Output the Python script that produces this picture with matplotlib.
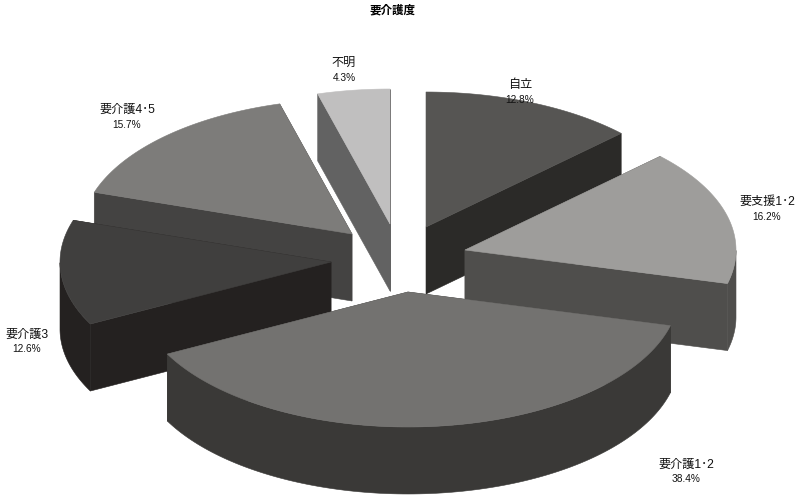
import numpy as np
import matplotlib
matplotlib.use("Agg")
import matplotlib.pyplot as plt

plt.rcParams["font.family"] = ["Liberation Sans", "Noto Sans CJK JP", "DejaVu Sans"]

categories = ["自立", "要支援1･2", "要介護1･2", "要介護3", "要介護4･5", "不明"]
shares = [12.8, 16.2, 38.4, 12.6, 15.7, 4.3]

# look of the slices
top_colors = ["#565553", "#9e9d9b", "#737270", "#403f3e", "#7d7c7a", "#c0bfbf"]
side_colors = ["#2b2a28", "#4f4e4c", "#3a3937", "#242120", "#444342", "#626262"]
apex_x = [426, 465, 408, 331, 352, 390]
apex_y = [227, 250, 292, 262, 234, 224]
label_x = [520, 767, 686, 27, 127, 344]
label_y = [85, 202, 465, 335, 110, 63]
draw_order = [5, 4, 0, 1, 3, 2]

RX, RY, DEPTH = 271, 135, 67

fig = plt.figure(figsize=(8, 5.03), dpi=100)
ax = fig.add_axes([0, 0, 1, 1])
ax.set_xlim(0, 800)
ax.set_ylim(503, 0)
ax.axis("off")

edges = np.cumsum([0] + shares) / sum(shares) * 2 * np.pi

for i in draw_order:
    t = np.linspace(edges[i], edges[i + 1], 120)
    arc_x = apex_x[i] + RX * np.sin(t)
    arc_y = apex_y[i] - RY * np.cos(t)
    # outer wall only where the rim faces the viewer
    front = (t >= np.pi / 2) & (t <= 3 * np.pi / 2)
    if front.any():
        wall_x, wall_y = arc_x[front], arc_y[front]
        ax.fill(np.r_[wall_x, wall_x[::-1]], np.r_[wall_y, wall_y[::-1] + DEPTH],
                color=side_colors[i], lw=0.4)
    # the two cut faces, the top hides whatever is behind it
    for end in (0, -1):
        ax.fill([apex_x[i], arc_x[end], arc_x[end], apex_x[i]],
                [apex_y[i], arc_y[end], arc_y[end] + DEPTH, apex_y[i] + DEPTH],
                color=side_colors[i], lw=0.4)
    ax.fill(np.r_[apex_x[i], arc_x], np.r_[apex_y[i], arc_y], color=top_colors[i], lw=0.4)

for i in range(len(categories)):
    ax.text(label_x[i], label_y[i], categories[i], ha="center", va="center",
            fontsize=8.7, color="#111111")
    ax.text(label_x[i], label_y[i] + 14.5, f"{shares[i]:.1f}%", ha="center", va="center",
            fontsize=7.3, color="#111111")

ax.text(393, 10, "要介護度", ha="center", va="center", fontsize=8.3,
        fontweight="bold", color="black")

fig.savefig("out.png", dpi=100)
